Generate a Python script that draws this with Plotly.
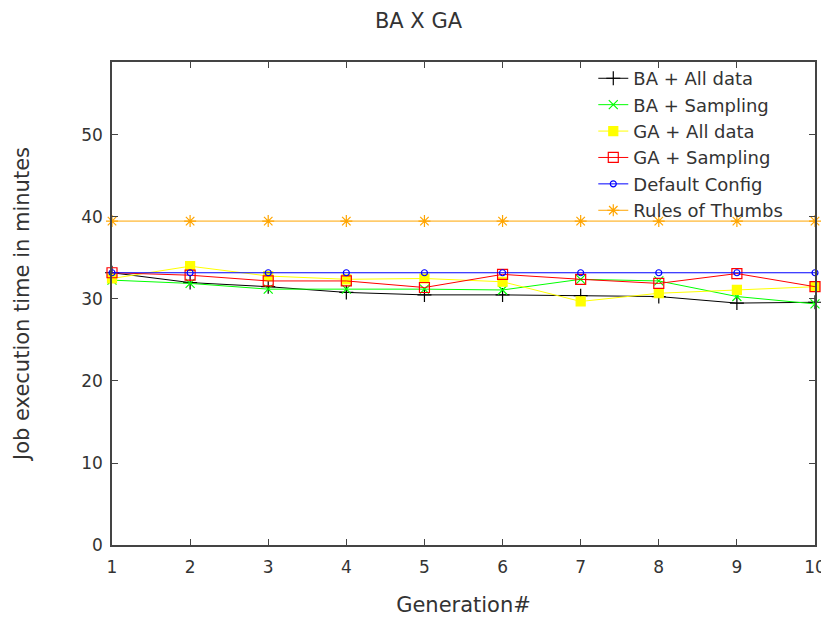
import plotly.graph_objects as go

generations = [1, 2, 3, 4, 5, 6, 7, 8, 9, 10]
ba_all = [33.2, 32.0, 31.5, 30.8, 30.5, 30.5, 30.4, 30.3, 29.5, 29.6]
ba_sampling = [32.3, 31.9, 31.2, 31.2, 31.2, 31.1, 32.4, 32.2, 30.3, 29.4]
ga_all = [32.5, 34.0, 32.8, 32.4, 32.5, 32.1, 29.7, 30.7, 31.1, 31.5]
ga_sampling = [33.2, 32.9, 32.2, 32.2, 31.4, 33.0, 32.4, 31.9, 33.1, 31.5]
default_config = [33.2, 33.2, 33.2, 33.2, 33.2, 33.2, 33.2, 33.2, 33.2, 33.2]
rules_of_thumb = [39.5, 39.5, 39.5, 39.5, 39.5, 39.5, 39.5, 39.5, 39.5, 39.5]

series = [
    ("BA + All data", ba_all, "#000000", "cross-thin-open", 10),
    ("BA + Sampling", ba_sampling, "#00ff00", "x-thin-open", 9),
    ("GA + All data", ga_all, "#ffff00", "square", 9),
    ("GA + Sampling", ga_sampling, "#ff0000", "square-open", 10),
    ("Default Config", default_config, "#0000ff", "circle-open", 6),
    ("Rules of Thumbs", rules_of_thumb, "#ffa500", "asterisk-open", 10),
]

font = "DejaVu Sans"
txt = "#333333"
fig = go.Figure()
for name, vals, col, sym, sz in series:
    fig.add_trace(go.Scatter(
        x=generations, y=vals, name=name, mode="lines+markers",
        line=dict(color=col, width=1),
        marker=dict(symbol=sym, size=sz, color=col,
                    line=dict(color=col, width=1.2)),
        cliponaxis=False,
    ))

axis_common = dict(
    showline=True, linecolor="#444444", linewidth=1.5, mirror="ticks",
    ticks="inside", ticklen=6, tickcolor="#444444", tickwidth=1,
    showgrid=False, zeroline=False, automargin=False,
    ticklabeloverflow="allow",
    tickfont=dict(family=font, size=17, color=txt),
)

# page body has an 8px default margin, so the figure is sized to fit the window
fig.update_layout(
    width=821, height=609,
    paper_bgcolor="white", plot_bgcolor="white",
    margin=dict(l=104, r=14, t=54, b=72),
    title=dict(text="BA X GA", x=0.5, xanchor="center", xref="container",
               y=0.980, yref="container", yanchor="middle", automargin=False,
               font=dict(family=font, size=21, color=txt)),
    xaxis=dict(range=[1, 10], tickvals=generations, ticklabelstandoff=6,
               title=dict(text="Generation#", standoff=22,
                          font=dict(family=font, size=21, color=txt)),
               **axis_common),
    yaxis=dict(range=[0, 58.9], tickvals=[0, 10, 20, 30, 40, 50],
               ticklabelstandoff=4,
               title=dict(text="Job execution time in minutes", standoff=46,
                          font=dict(family=font, size=21, color=txt)),
               **axis_common),
    legend=dict(x=0.962, xanchor="right", y=1.004, yanchor="top",
                bgcolor="rgba(0,0,0,0)", tracegroupgap=0,
                font=dict(family=font, size=18, color=txt)),
    showlegend=True,
)

fig.write_html("out.html")
